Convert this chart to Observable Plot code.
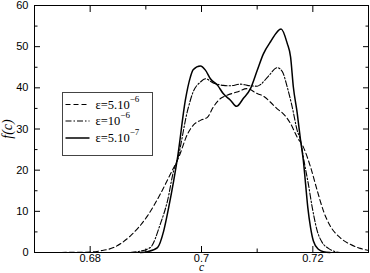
<!DOCTYPE html>
<html><head><meta charset="utf-8">
<script src="https://cdn.jsdelivr.net/npm/d3@7"></script>
<script src="https://cdn.jsdelivr.net/npm/@observablehq/plot@0.6"></script>
<style>
body{margin:0;background:#fff;}
#chart svg{display:block;}
g[aria-label="x-axis label"] text{font-family:"Liberation Serif","DejaVu Serif",serif;font-style:italic;font-size:11.5px;}
g[aria-label="y-axis label"] text{font-family:"Liberation Serif","DejaVu Serif",serif;font-style:italic;font-size:14px;}
</style></head><body><div id="chart"></div>
<script>
// series: eps = 5e-6 (dashed)
const cA = [0.6734,0.6801,0.6818,0.6842,0.6872,0.6903,0.6926,0.6944,0.6959,0.6975,0.6985,0.6998,0.7011,0.7021,0.7034,0.7046,0.7064,0.7082,0.7100,0.7111,0.7124,0.7136,0.7147,0.7160,0.7172,0.7183,0.7196,0.7208,0.7219,0.7231,0.7249,0.7267,0.7285,0.7300];
const fA = [0,0.1,0.4,1.2,4,8.9,14.2,19,23.1,28.8,30.9,32.1,32.9,35.3,37.4,38.2,39,39.8,38.6,38.0,36.5,34.9,33.7,31.3,28,25.6,20.7,15,10.1,6.5,3.6,2,1,0.5];
// series: eps = 1e-6 (dash-dot)
const cB = [0.6872,0.6885,0.6908,0.6926,0.6939,0.6950,0.6957,0.6975,0.6985,0.6998,0.7007,0.7021,0.7039,0.7052,0.7070,0.7082,0.7100,0.7106,0.7120,0.7136,0.7145,0.7154,0.7163,0.7172,0.7178,0.7183,0.7192,0.7199,0.7208,0.7217,0.7228,0.7240,0.7249];
const fB = [0,0.2,1.2,6.9,12.6,19.9,22.7,34.5,39,41.4,42.2,41.2,40.6,40.5,40.9,40.6,40.4,40.8,42.8,44.9,44.0,40.2,35.3,29.6,27.2,23.1,16.6,10.9,5.2,2.4,1,0.2,0];
// series: eps = 5e-7 (solid)
const cC = [0.6890,0.6903,0.6921,0.6932,0.6941,0.6950,0.6957,0.6971,0.6980,0.6985,0.6998,0.7007,0.7016,0.7029,0.7039,0.7052,0.7063,0.7075,0.7088,0.7100,0.7111,0.7124,0.7143,0.7154,0.7160,0.7165,0.7172,0.7178,0.7183,0.7187,0.7191,0.7196,0.7201,0.7210,0.7219,0.7231];
const fC = [0,0.2,1.2,5.2,10.9,17.4,23.1,37,42.6,44.4,45.3,44.3,42.2,40.6,38.6,37,35.5,37.4,39.8,44.2,48.2,51.2,54.3,50.8,47.5,40.2,33.8,27.2,22.3,16.6,10.9,6,2.8,0.8,0.2,0];

const legendMain = ["ε=5.10", "ε=10", "ε=5.10"];
const legendExp = ["−6", "−6", "−7"];
const xTicks = [0.68, 0.7, 0.72];
const xMinor = [0.69, 0.71];
const yTicks = [0, 10, 20, 30, 40, 50, 60];
const yMinor = [5, 15, 25, 35, 45, 55];

const dashes = ["5,3", "6,2,1.5,2", null];
const widths = [1.1, 1.1, 1.5];
const seriesC = [cA, cB, cC], seriesF = [fA, fB, fC];
const tables = seriesC.map((cs, s) => cs.map((c, i) => ({c, f: seriesF[s][i]})));

const lineMarks = tables.map((t, s) => Plot.line(t, {
  x: "c", y: "f", stroke: "#000", strokeWidth: widths[s],
  strokeDasharray: dashes[s] ?? undefined, curve: "monotone-x"
}));

const tickOpts = {fill: "none", label: null, stroke: "#000"};
const plot = Plot.plot({
  width: 370, height: 273,
  marginLeft: 34, marginRight: 2, marginTop: 5, marginBottom: 21,
  x: {domain: [0.67, 0.73]},
  y: {domain: [0, 60]},
  style: {fontFamily: '"Liberation Sans", Arial, sans-serif', fontSize: "11px", color: "#000", background: "#fff"},
  marks: [
    ...lineMarks,
    Plot.frame({stroke: "#000", strokeWidth: 1}),
    Plot.axisX({ticks: xTicks, anchor: "bottom", tickSize: -6, ...tickOpts}),
    Plot.axisX({ticks: xTicks, anchor: "top", tickSize: -6, ...tickOpts}),
    Plot.axisX({ticks: xMinor, anchor: "bottom", tickSize: -3.5, ...tickOpts}),
    Plot.axisX({ticks: xMinor, anchor: "top", tickSize: -3.5, ...tickOpts}),
    Plot.axisY({ticks: yTicks, anchor: "left", tickSize: -6, ...tickOpts}),
    Plot.axisY({ticks: yTicks, anchor: "right", tickSize: -6, ...tickOpts}),
    Plot.axisY({ticks: yMinor, anchor: "left", tickSize: -3.5, ...tickOpts}),
    Plot.axisY({ticks: yMinor, anchor: "right", tickSize: -3.5, ...tickOpts}),
    Plot.axisX({ticks: xTicks, anchor: "bottom", tickSize: 0, tickPadding: 1.5, tickFormat: d => String(d),
      label: "c", labelAnchor: "center", labelArrow: "none", labelOffset: 18.5}),
    Plot.axisY({ticks: yTicks, anchor: "left", tickSize: 0, tickPadding: 6, tickFormat: d => String(d),
      label: "f(c)", labelAnchor: "center", labelArrow: "none", labelOffset: 32})
  ]
});
document.getElementById("chart").append(plot);

// legend box inside the plot area
const svg = d3.select(plot);
const lg = svg.append("g").attr("transform", "translate(62.5,92.5)");
lg.append("rect").attr("width", 90).attr("height", 63).attr("fill", "#fff").attr("stroke", "#444").attr("stroke-width", 1);
const rowY = [12, 28.5, 45.5];
legendMain.forEach((txt, i) => {
  lg.append("line").attr("x1", 3).attr("x2", 27).attr("y1", rowY[i]).attr("y2", rowY[i])
    .attr("stroke", "#000").attr("stroke-width", widths[i])
    .attr("stroke-dasharray", dashes[i]);
  const t = lg.append("text").attr("x", 33).attr("y", rowY[i] + 4)
    .attr("text-anchor", "start")
    .attr("font-family", '"Liberation Serif", serif').attr("font-size", 12.5).attr("fill", "#000");
  t.append("tspan").text(txt);
  t.append("tspan").attr("dy", -7).attr("font-size", 9).text(legendExp[i]);
});
</script></body></html>
